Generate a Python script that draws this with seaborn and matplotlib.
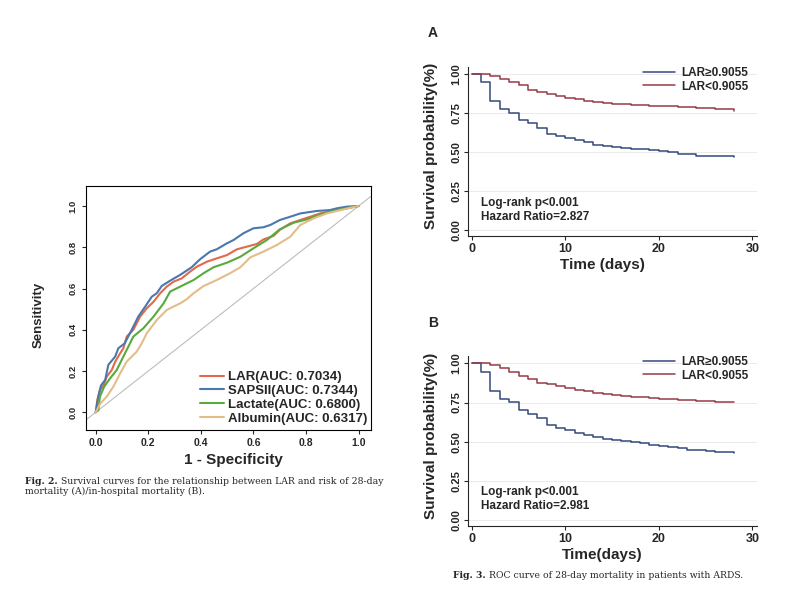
import pandas as pd
import matplotlib.pyplot as plt
import seaborn as sns

# ROC curves (1 - specificity, sensitivity)
lar_fpr = [0, 0.006, 0.016, 0.03, 0.042, 0.061, 0.074, 0.093, 0.105, 0.118, 0.143, 0.169, 0.194, 0.22, 0.245,
           0.27, 0.296, 0.327, 0.359, 0.385, 0.423, 0.46, 0.499, 0.537, 0.575, 0.613, 0.638, 0.676, 0.70, 0.74,
           0.778, 0.816, 0.854, 0.905, 0.956, 1.0]
lar_tpr = [0, 0.06, 0.108, 0.13, 0.173, 0.205, 0.245, 0.286, 0.31, 0.367, 0.40, 0.464, 0.504, 0.536, 0.577,
           0.609, 0.633, 0.649, 0.682, 0.706, 0.73, 0.746, 0.762, 0.79, 0.803, 0.816, 0.838, 0.855, 0.884, 0.916,
           0.932, 0.948, 0.964, 0.977, 0.989, 1.0]
sapsii_fpr = [0, 0.01, 0.02, 0.036, 0.048, 0.074, 0.086, 0.11, 0.137, 0.162, 0.188, 0.213, 0.232, 0.251, 0.283,
              0.321, 0.365, 0.397, 0.435, 0.46, 0.499, 0.524, 0.562, 0.60, 0.638, 0.664, 0.70, 0.74, 0.778, 0.841,
              0.89, 0.918, 0.956, 1.0]
sapsii_tpr = [0, 0.076, 0.13, 0.157, 0.23, 0.27, 0.31, 0.334, 0.40, 0.464, 0.512, 0.56, 0.577, 0.612, 0.638,
              0.666, 0.703, 0.742, 0.779, 0.79, 0.819, 0.835, 0.868, 0.892, 0.897, 0.908, 0.932, 0.948, 0.964, 0.976,
              0.98, 0.989, 0.997, 1.0]
lactate_fpr = [0, 0.01, 0.016, 0.032, 0.055, 0.08, 0.105, 0.124, 0.143, 0.181, 0.22, 0.258, 0.283, 0.321, 0.372,
               0.41, 0.448, 0.499, 0.55, 0.60, 0.651, 0.70, 0.753, 0.803, 0.867, 0.93, 1.0]
lactate_tpr = [0, 0.01, 0.076, 0.124, 0.165, 0.205, 0.27, 0.318, 0.367, 0.407, 0.464, 0.528, 0.585, 0.609, 0.641,
               0.674, 0.703, 0.725, 0.754, 0.795, 0.835, 0.887, 0.919, 0.935, 0.964, 0.984, 1.0]
albumin_fpr = [0, 0.016, 0.042, 0.067, 0.093, 0.118, 0.156, 0.175, 0.194, 0.232, 0.27, 0.321, 0.346, 0.372, 0.41,
               0.46, 0.511, 0.55, 0.588, 0.638, 0.689, 0.74, 0.778, 0.829, 0.879, 0.943, 1.0]
albumin_tpr = [0, 0.04, 0.076, 0.124, 0.189, 0.246, 0.294, 0.334, 0.383, 0.447, 0.496, 0.528, 0.548, 0.577, 0.612,
               0.641, 0.674, 0.703, 0.751, 0.779, 0.811, 0.851, 0.908, 0.94, 0.964, 0.984, 1.0]
roc_labels = ["LAR(AUC: 0.7034)", "SAPSII(AUC: 0.7344)", "Lactate(AUC: 0.6800)", "Albumin(AUC: 0.6317)"]
roc_colors = ["#E06A4A", "#4A77AC", "#58AA3C", "#E3BC8A"]

# Kaplan-Meier curves, survival by day 0..28
days = list(range(29))
a_high = [1.0, 0.949, 0.831, 0.777, 0.750, 0.707, 0.684, 0.655, 0.618, 0.604, 0.589, 0.578, 0.563, 0.548, 0.542,
          0.536, 0.529, 0.523, 0.518, 0.512, 0.507, 0.502, 0.488, 0.486, 0.476, 0.475, 0.474, 0.473, 0.471]
a_low = [1.0, 1.0, 0.989, 0.970, 0.951, 0.929, 0.902, 0.884, 0.872, 0.861, 0.850, 0.839, 0.827, 0.820, 0.815,
         0.810, 0.806, 0.803, 0.800, 0.798, 0.796, 0.794, 0.792, 0.789, 0.786, 0.783, 0.780, 0.777, 0.762]
b_high = [1.0, 0.943, 0.826, 0.772, 0.751, 0.702, 0.677, 0.653, 0.606, 0.589, 0.572, 0.557, 0.543, 0.528, 0.519,
          0.511, 0.504, 0.496, 0.489, 0.481, 0.474, 0.468, 0.460, 0.449, 0.445, 0.440, 0.436, 0.432, 0.426]
b_low = [1.0, 1.0, 0.987, 0.968, 0.947, 0.921, 0.898, 0.877, 0.866, 0.855, 0.843, 0.832, 0.822, 0.813, 0.804,
         0.798, 0.792, 0.787, 0.782, 0.778, 0.774, 0.770, 0.767, 0.764, 0.761, 0.758, 0.756, 0.754, 0.752]
km_labels = ["LAR≥0.9055", "LAR<0.9055"]
km_colors = ["#34497A", "#953A45"]
y_ticks = [0, 0.25, 0.5, 0.75, 1.0]
y_ticklabels = ["0.00", "0.25", "0.50", "0.75", "1.00"]

sns.set_theme(style="ticks")
plt.rcParams["font.family"] = ["Liberation Sans", "DejaVu Sans"]
plt.rcParams["axes.linewidth"] = 0.8

W, H = 790, 596
fig = plt.figure(figsize=(W / 100, H / 100), dpi=100)


def px_axes(x0, y0, x1, y1):
    return fig.add_axes([x0 / W, 1 - y1 / H, (x1 - x0) / W, (y1 - y0) / H])


# ROC panel
ax = px_axes(86, 186, 371, 430)
ax.axline((0, 0), (1, 1), color="#BDBDBD", lw=0.8)
roc = [(lar_fpr, lar_tpr), (sapsii_fpr, sapsii_tpr), (lactate_fpr, lactate_tpr), (albumin_fpr, albumin_tpr)]
for (fpr, tpr), lab, col in zip(roc, roc_labels, roc_colors):
    sns.lineplot(x=fpr, y=tpr, ax=ax, color=col, lw=1.5, label=lab, estimator=None, sort=False)
ax.set_xlim(-0.037, 1.047)
ax.set_ylim(-0.086, 1.097)
ax.set_xticks([0, 0.2, 0.4, 0.6, 0.8, 1.0])
ax.set_yticks([0, 0.2, 0.4, 0.6, 0.8, 1.0])
ax.set_xticklabels(["0.0", "0.2", "0.4", "0.6", "0.8", "1.0"], fontsize=7.5, fontweight="bold")
ax.set_yticklabels(["0.0", "0.2", "0.4", "0.6", "0.8", "1.0"], fontsize=6.8, fontweight="bold",
                   rotation=90, va="center")
ax.tick_params(length=3, width=0.8, pad=3)
for s in ax.spines.values():
    s.set_color("black")
ax.set_xlabel("1 - Specificity", fontsize=11, fontweight="bold")
ax.set_ylabel("Sensitivity", fontsize=9.5, fontweight="bold")
ax.xaxis.set_label_coords((233 - 86) / 285, (430 - 453) / 244)
ax.yaxis.set_label_coords((45 - 86) / 285, (430 - 315) / 244)
ax.legend(loc="upper left", bbox_to_anchor=((200 - 86) / 285, (430 - 371) / 244), frameon=False,
          prop={"size": 9.5, "weight": "bold"}, handlelength=1.8, handletextpad=0.3,
          labelspacing=0.12, borderpad=0, borderaxespad=0)

# Kaplan-Meier panels
panels = [
    ((468, 66.5, 757, 236.2), a_high, a_low, "A", 33, "Time (days)", 203, "Hazard Ratio=2.827"),
    ((468, 355.5, 757, 526.3), b_high, b_low, "B", 323, "Time(days)", 492.5, "Hazard Ratio=2.981"),
]
for (x0, y0, x1, y1), high, low, tag, tag_y, xlab, note_y, hr in panels:
    ax = px_axes(x0, y0, x1, y1)
    ah, aw = y1 - y0, x1 - x0
    for t in y_ticks:
        ax.axhline(t, color="#EBEBEB", lw=0.7, zorder=0)
    df = pd.DataFrame({"day": days * 2, "surv": high + low,
                       "group": [km_labels[0]] * len(days) + [km_labels[1]] * len(days)})
    sns.lineplot(data=df, x="day", y="surv", hue="group", palette=km_colors, ax=ax,
                 drawstyle="steps-post", estimator=None, lw=1.1)
    ax.set_xlim(-0.4, 30.5)
    ax.set_ylim(-0.04, 1.05)
    ax.set_xticks([0, 10, 20, 30])
    ax.set_xticklabels(["0", "10", "20", "30"], fontsize=9, fontweight="bold")
    ax.set_yticks(y_ticks)
    ax.set_yticklabels(y_ticklabels, fontsize=8, fontweight="bold", rotation=90, va="center")
    ax.tick_params(length=3, width=0.8, pad=2)
    sns.despine(ax=ax)
    ax.set_xlabel(xlab, fontsize=11, fontweight="bold")
    ax.set_ylabel("Survival probability(%)", fontsize=11, fontweight="bold")
    ax.xaxis.set_label_coords((602 - x0) / aw, -(y1 - y0 + 22) / ah + 1)
    ax.yaxis.set_label_coords((438 - x0) / aw, 0.53)
    ax.legend(loc="upper left", bbox_to_anchor=((643 - x0) / aw, 0.995), frameon=False, title=None,
              prop={"size": 8.5, "weight": "bold"}, handlelength=2.7, handletextpad=0.55,
              labelspacing=0.1, borderpad=0, borderaxespad=0)
    ax.text((481 - x0) / aw, (y1 - note_y) / ah, "Log-rank p<0.001",
            transform=ax.transAxes, fontsize=8.5, fontweight="bold", va="center")
    ax.text((481 - x0) / aw, (y1 - note_y - 13.5) / ah, hr,
            transform=ax.transAxes, fontsize=8.5, fontweight="bold", va="center")
    fig.text(433 / W, 1 - tag_y / H, tag, fontsize=10, fontweight="bold", ha="center", va="center")

# captions
fig.canvas.draw()
r = fig.canvas.get_renderer()
caps = [(25, 482, "Fig. 2.", " Survival curves for the relationship between LAR and risk of 28-day"),
        (453, 576, "Fig. 3.", " ROC curve of 28-day mortality in patients with ARDS.")]
for x, y, head, rest in caps:
    t = fig.text(x / W, 1 - y / H, head, family="DejaVu Serif", fontsize=6.7, fontweight="bold", va="center")
    bb = t.get_window_extent(r)
    fig.text(bb.x1 / W, 1 - y / H, rest, family="DejaVu Serif", fontsize=6.7, va="center")
fig.text(25 / W, 1 - 491 / H, "mortality (A)/in-hospital mortality (B).", family="DejaVu Serif",
         fontsize=6.7, va="center")

fig.savefig("out.png", dpi=100)
